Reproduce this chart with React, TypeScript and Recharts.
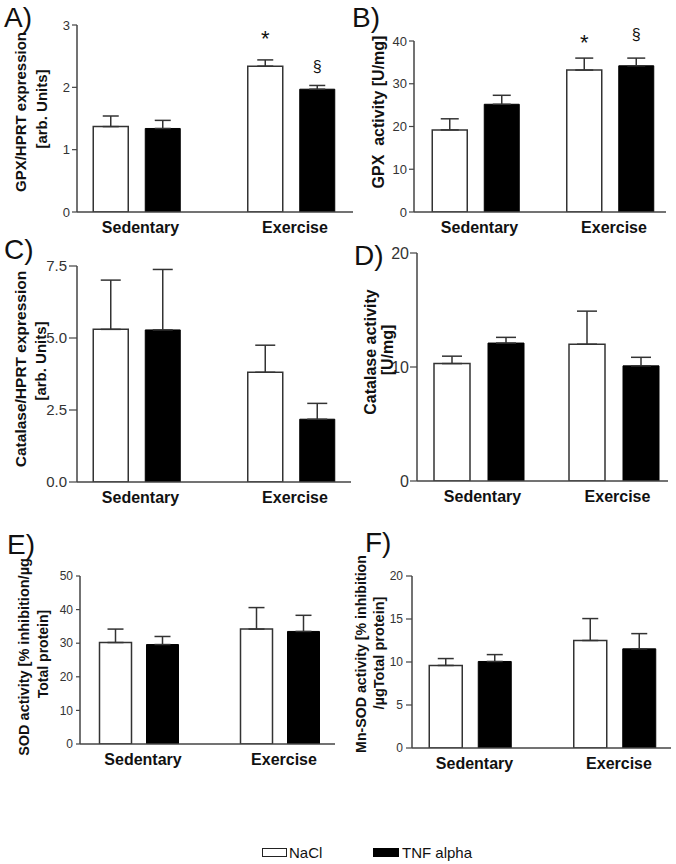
import React from 'react';
import { BarChart, Bar, XAxis, YAxis, ErrorBar, LabelList } from 'recharts';

// groups on the x axis
const groups = ['Sedentary', 'Exercise'];

// A) GPX/HPRT expression
const gpxExprNaCl = [1.37, 2.34];
const gpxExprNaClSem = [0.17, 0.1];
const gpxExprTnf = [1.34, 1.97];
const gpxExprTnfSem = [0.13, 0.06];

// B) GPX activity
const gpxActNaCl = [19.2, 33.2];
const gpxActNaClSem = [2.6, 2.8];
const gpxActTnf = [25.2, 34.2];
const gpxActTnfSem = [2.1, 1.8];

// C) Catalase/HPRT expression
const catExprNaCl = [5.3, 3.81];
const catExprNaClSem = [1.71, 0.94];
const catExprTnf = [5.28, 2.18];
const catExprTnfSem = [2.1, 0.55];

// D) Catalase activity
const catActNaCl = [10.3, 12.0];
const catActNaClSem = [0.65, 2.9];
const catActTnf = [12.1, 10.1];
const catActTnfSem = [0.5, 0.75];

// E) SOD activity
const sodNaCl = [30.2, 34.2];
const sodNaClSem = [4.0, 6.4];
const sodTnf = [29.6, 33.5];
const sodTnfSem = [2.4, 4.8];

// F) Mn-SOD activity
const mnSodNaCl = [9.6, 12.5];
const mnSodNaClSem = [0.8, 2.55];
const mnSodTnf = [10.06, 11.53];
const mnSodTnfSem = [0.8, 1.77];

// significance marks (text, and the value where its baseline sits)
const gpxExprNaClMark = ['', '*'];
const gpxExprNaClMarkAt = [0, 2.66];
const gpxExprTnfMark = ['', '§'];
const gpxExprTnfMarkAt = [0, 2.25];
const gpxActNaClMark = ['', '*'];
const gpxActNaClMarkAt = [0, 38.0];
const gpxActTnfMark = ['', '§'];
const gpxActTnfMarkAt = [0, 40.3];

const noMark = ['', ''];
const noMarkAt = [0, 0];

const FONT = '"Liberation Sans", Arial, Helvetica, sans-serif';
const AXIS = '#444';

const buildRows = (
  nacl: number[], naclSem: number[], tnf: number[], tnfSem: number[],
  naclMark = noMark, naclAt = noMarkAt, tnfMark = noMark, tnfAt = noMarkAt
) =>
  groups.map((g, i) => ({
    group: g,
    nacl: nacl[i],
    naclErr: [0, naclSem[i]],
    tnf: tnf[i],
    tnfErr: [0, tnfSem[i]],
    naclMark: naclMark[i],
    naclAt: naclAt[i],
    tnfMark: tnfMark[i],
    tnfAt: tnfAt[i],
  }));

const markLabel = (rows: any[], valueKey: string, atKey: string) => (props: any) => {
  const { x, y, width, height, value, index } = props;
  if (!value) return null;
  const row = rows[index];
  const zeroY = Number(y) + Number(height);
  const ty = zeroY - (row[atKey] / row[valueKey]) * Number(height);
  const isStar = value === '*';
  return (
    <text
      x={Number(x) + Number(width) / 2}
      y={ty}
      textAnchor="middle"
      fontFamily={FONT}
      fontSize={isStar ? 22 : 16}
      fill="#111"
    >
      {value}
    </text>
  );
};

type PanelProps = {
  rows: any[];
  left: number;
  top: number;
  width: number;
  height: number;
  marginTop: number;
  yWidth: number;
  domain: [number, number];
  ticks: number[];
  tickFont: number;
  tickSize: number;
  tickMargin: number;
  padL: number;
  padR: number;
  barSize: number;
  barGap: number;
  cap: number;
  fmt?: (v: number) => string;
};

const Panel: React.FC<PanelProps> = (p) => (
  <div style={{ position: 'absolute', left: p.left, top: p.top }}>
    <BarChart
      width={p.width}
      height={p.height}
      data={p.rows}
      barGap={p.barGap}
      margin={{ top: p.marginTop, right: 3, left: 0, bottom: 0 }}
    >
      <XAxis
        dataKey="group"
        height={30}
        tickLine={false}
        tickSize={6}
        tickMargin={4}
        padding={{ left: p.padL, right: p.padR }}
        axisLine={{ stroke: AXIS, strokeWidth: 1.5 }}
        tick={{ fontFamily: FONT, fontSize: 16, fontWeight: 'bold', fill: '#111', dx: 4 }}
      />
      <YAxis
        width={p.yWidth}
        domain={p.domain}
        ticks={p.ticks}
        allowDataOverflow
        interval={0}
        tickSize={p.tickSize}
        tickMargin={p.tickMargin}
        tickFormatter={p.fmt}
        axisLine={{ stroke: AXIS, strokeWidth: 1.5 }}
        tickLine={{ stroke: AXIS, strokeWidth: 1.2 }}
        tick={{ fontFamily: FONT, fontSize: p.tickFont, fill: '#333' }}
      />
      <Bar dataKey="nacl" fill="#ffffff" stroke="#333" strokeWidth={1.5} barSize={p.barSize} isAnimationActive={false}>
        <ErrorBar dataKey="naclErr" width={p.cap} stroke="#333" strokeWidth={1.5} direction="y" isAnimationActive={false} />
        <LabelList dataKey="naclMark" content={markLabel(p.rows, 'nacl', 'naclAt')} />
      </Bar>
      <Bar dataKey="tnf" fill="#000000" stroke="#000" strokeWidth={1} barSize={p.barSize} isAnimationActive={false}>
        <ErrorBar dataKey="tnfErr" width={p.cap} stroke="#333" strokeWidth={1.5} direction="y" isAnimationActive={false} />
        <LabelList dataKey="tnfMark" content={markLabel(p.rows, 'tnf', 'tnfAt')} />
      </Bar>
    </BarChart>
  </div>
);

const rowsA = buildRows(gpxExprNaCl, gpxExprNaClSem, gpxExprTnf, gpxExprTnfSem,
  gpxExprNaClMark, gpxExprNaClMarkAt, gpxExprTnfMark, gpxExprTnfMarkAt);
const rowsB = buildRows(gpxActNaCl, gpxActNaClSem, gpxActTnf, gpxActTnfSem,
  gpxActNaClMark, gpxActNaClMarkAt, gpxActTnfMark, gpxActTnfMarkAt);
const rowsC = buildRows(catExprNaCl, catExprNaClSem, catExprTnf, catExprTnfSem);
const rowsD = buildRows(catActNaCl, catActNaClSem, catActTnf, catActTnfSem);
const rowsE = buildRows(sodNaCl, sodNaClSem, sodTnf, sodTnfSem);
const rowsF = buildRows(mnSodNaCl, mnSodNaClSem, mnSodTnf, mnSodTnfSem);

const YLabel = ({ cx, cy, size, children }: { cx: number; cy: number; size: number; children: React.ReactNode }) => (
  <text
    x={cx}
    y={cy}
    transform={`rotate(-90 ${cx} ${cy})`}
    textAnchor="middle"
    dominantBaseline="central"
    fontFamily={FONT}
    fontSize={size}
    fontWeight="bold"
    fill="#111"
    style={{ whiteSpace: 'pre' }}
  >
    {children}
  </text>
);

const Letter = ({ x, y, children }: { x: number; y: number; children: React.ReactNode }) => (
  <text x={x} y={y} fontFamily={FONT} fontSize={28} fill="#111">{children}</text>
);

export default function App() {
  return (
    <div style={{ position: 'absolute', left: 0, top: 0, width: 676, height: 864, background: '#fff', overflow: 'hidden' }}>
      <Panel rows={rowsA} left={0} top={0} width={356} height={242} marginTop={25} yWidth={77}
        domain={[0, 3]} ticks={[0, 1, 2, 3]} tickFont={13} tickSize={5} tickMargin={2}
        padL={-17.75} padR={-15.25} barSize={35} barGap={17} cap={8} />
      <Panel rows={rowsB} left={336} top={0} width={333} height={242} marginTop={41} yWidth={78}
        domain={[0, 40]} ticks={[0, 10, 20, 30, 40]} tickFont={13} tickSize={5} tickMargin={2}
        padL={-5.75} padR={-11.25} barSize={35} barGap={17} cap={9} />
      <Panel rows={rowsC} left={0} top={240} width={354} height={272} marginTop={26} yWidth={77}
        domain={[0, 7.5]} ticks={[0, 2.5, 5, 7.5]} tickFont={15} tickSize={8} tickMargin={2}
        padL={-17.75} padR={-17.25} barSize={35} barGap={17} cap={10}
        fmt={(v) => v.toFixed(1)} />
      <Panel rows={rowsD} left={336} top={240} width={335} height={271} marginTop={13} yWidth={81}
        domain={[0, 20]} ticks={[0, 10, 20]} tickFont={16} tickSize={7} tickMargin={1}
        padL={-6} padR={-13} barSize={36} barGap={18} cap={10} />
      <Panel rows={rowsE} left={0} top={500} width={338} height={274} marginTop={76} yWidth={80}
        domain={[0, 50]} ticks={[0, 10, 20, 30, 40, 50]} tickFont={12} tickSize={4} tickMargin={3}
        padL={-11.5} padR={-15.5} barSize={32} barGap={15} cap={8} />
      <Panel rows={rowsF} left={336} top={500} width={338} height={278} marginTop={76} yWidth={76}
        domain={[0, 20]} ticks={[0, 5, 10, 15, 20]} tickFont={12} tickSize={6} tickMargin={3}
        padL={-13.75} padR={-16.25} barSize={33} barGap={16} cap={8} />

      <svg width={676} height={864} style={{ position: 'absolute', left: 0, top: 0, pointerEvents: 'none' }}>
        <Letter x={4} y={27}>A)</Letter>
        <Letter x={352} y={27}>B)</Letter>
        <Letter x={4} y={259}>C)</Letter>
        <Letter x={354} y={265}>D)</Letter>
        <Letter x={7} y={554}>E)</Letter>
        <Letter x={365} y={552}>F)</Letter>

        <YLabel cx={20} cy={112} size={15}>GPX/HPRT expression</YLabel>
        <YLabel cx={41} cy={109} size={15}>[arb. Units]</YLabel>
        <YLabel cx={378} cy={112} size={16}>GPX  activity [U/mg]</YLabel>
        <YLabel cx={20} cy={369} size={15.5}>Catalase/HPRT expression</YLabel>
        <YLabel cx={40} cy={361} size={15}>[arb. Units]</YLabel>
        <YLabel cx={370} cy={352} size={16}>Catalase activity</YLabel>
        <YLabel cx={387} cy={350} size={16}>[U/mg]</YLabel>
        <YLabel cx={24} cy={657} size={14.5}>SOD activity [% inhibition/µg</YLabel>
        <YLabel cx={43} cy={654} size={14}>Total protein]</YLabel>
        <YLabel cx={361} cy={654} size={14.2}>Mn-SOD activity [% inhibition</YLabel>
        <YLabel cx={379} cy={653} size={14.5}>/µgTotal protein]</YLabel>

        <rect x={262.5} y={848.5} width={24} height={8} fill="#fff" stroke="#222" strokeWidth={1} />
        <text x={289} y={858} fontFamily={FONT} fontSize={15} fill="#111">NaCl</text>
        <rect x={373} y={848} width={26} height={9} fill="#000" />
        <text x={402} y={858} fontFamily={FONT} fontSize={15} fill="#111">TNF alpha</text>
      </svg>
    </div>
  );
}
